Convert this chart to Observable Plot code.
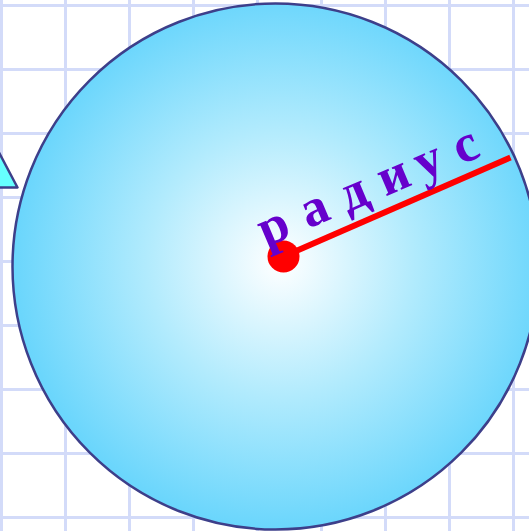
<!DOCTYPE html>
<html>
<head>
<meta charset="utf-8">
<script src="https://cdn.jsdelivr.net/npm/d3@7"></script>
<script src="https://cdn.jsdelivr.net/npm/@observablehq/plot@0.6"></script>
<style>
  html, body { margin: 0; padding: 0; background: #ffffff; overflow: hidden; }
  #chart svg { display: block; }
</style>
</head>
<body>
<div id="chart"></div>
<script>
// Grid lines (pixel-space units of the drawing)
const gridX = [1, 65, 129, 193, 257, 321, 385, 449, 513];
const gridY = [5, 69, 133, 197, 261, 325, 389, 453, 517];

// Circle
const circleCenter = [{x: 275, y: 266, r: 263}];

// Radius segment: centre -> point on circle
const radiusSegment = [{x1: 283, y1: 256, x2: 510, y2: 157}];
const centreDot = [{x: 283, y: 256, r: 16}];

// Label letters and their baseline anchor points
const letters = ["р", "а", "д", "и", "у", "с"];
const letterX = [279, 320, 359, 399, 434, 471];
const letterY = [241, 223, 207, 190, 175, 160];

// Partial triangle at left edge
const triX = [-2, 17, -25, -2];
const triY = [151, 187, 187, 151];

const labelData = letters.map((t, i) => ({t, x: letterX[i], y: letterY[i]}));
const triData = triX.map((x, i) => ({x, y: triY[i]}));

const W = 529, H = 531;
const plot = Plot.plot({
  width: W,
  height: H,
  margin: 0,
  x: {domain: [0, W], range: [0, W], axis: null},
  y: {domain: [0, H], range: [0, H], axis: null},
  r: {type: "identity"},
  style: {background: "#ffffff", overflow: "hidden"},
  marks: [
    Plot.ruleX(gridX, {stroke: "#d3dbf9", strokeWidth: 3}),
    Plot.ruleY(gridY, {stroke: "#d3dbf9", strokeWidth: 3}),
    Plot.line(triData, {x: "x", y: "y", fill: "#66ffff", stroke: "#3d3f8a", strokeWidth: 2.5}),
    Plot.dot(circleCenter, {x: "x", y: "y", r: "r", fill: "url(#circleGrad)", stroke: "#3d3f8a", strokeWidth: 2.5}),
    Plot.link(radiusSegment, {x1: "x1", y1: "y1", x2: "x2", y2: "y2", stroke: "#ff0000", strokeWidth: 6}),
    Plot.dot(centreDot, {x: "x", y: "y", r: "r", fill: "#ff0000", stroke: "none"}),
    Plot.text(labelData, {x: "x", y: "y", text: "t", rotate: -23, fontSize: 53, fontWeight: "bold",
      fontFamily: "'Liberation Serif', 'Times New Roman', serif", fill: "#6600cc",
      textAnchor: "middle", lineAnchor: "bottom"})
  ]
});

const xs = plot.scale("x"), ys = plot.scale("y");
const svg = d3.select(plot);
const defs = svg.insert("defs", ":first-child");
const g = defs.append("radialGradient")
  .attr("id", "circleGrad")
  .attr("gradientUnits", "userSpaceOnUse")
  .attr("cx", xs.apply(280)).attr("cy", ys.apply(262))
  .attr("r", 265);
g.append("stop").attr("offset", "0").attr("stop-color", "#ffffff");
g.append("stop").attr("offset", "0.5").attr("stop-color", "#b2ebfd");
g.append("stop").attr("offset", "1").attr("stop-color", "#6bd6fc");

document.getElementById("chart").appendChild(plot);
</script>
</body>
</html>
